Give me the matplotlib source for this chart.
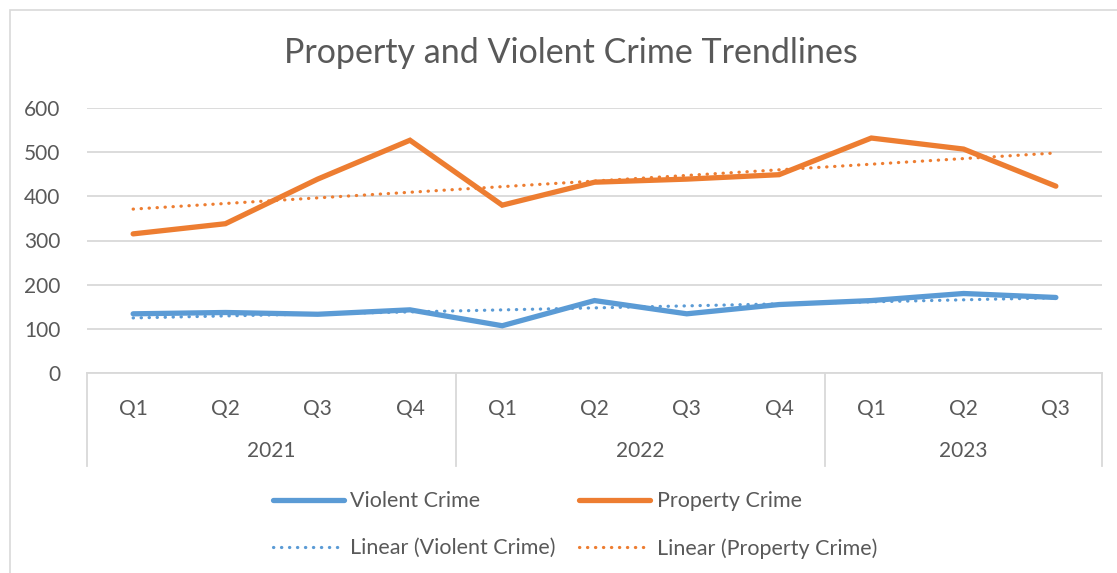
import numpy as np
import matplotlib
matplotlib.use('Agg')
import matplotlib.pyplot as plt
from matplotlib.patches import Rectangle
from matplotlib.lines import Line2D
import matplotlib.transforms as mtransforms

plt.rcParams['font.family'] = ['Lato', 'DejaVu Sans']

# Data
quarters = ['Q1', 'Q2', 'Q3', 'Q4', 'Q1', 'Q2', 'Q3', 'Q4', 'Q1', 'Q2', 'Q3']
years = ['2021', '2022', '2023']
year_sizes = [4, 4, 3]
violent = [134, 137, 133, 143, 107, 164, 134, 155, 164, 180, 171]
property_crime = [315, 338, 439, 527, 380, 432, 439, 449, 532, 507, 423]

blue = '#5B9BD5'
orange = '#ED7D31'
grid_col = '#D9D9D9'
text_col = '#595959'
fs = 15

x = np.arange(len(quarters))

# Linear trendlines (least squares fit, like Excel)
v_fit = np.polyval(np.polyfit(x, violent, 1), x)
p_fit = np.polyval(np.polyfit(x, property_crime, 1), x)

fig = plt.figure(figsize=(11.17, 5.73), dpi=100)

# chart area border
fig.patches.append(Rectangle((10 / 1117, -0.1), 1.2, 1 - 10 / 573 + 0.1,
                             transform=fig.transFigure, fill=False,
                             edgecolor=grid_col, linewidth=1.2))

ax = fig.add_axes([87 / 1117, 1 - 373 / 573, (1102 - 87) / 1117, (373 - 108) / 573])

dot = (0, (0.1, 2.4))
ax.plot(x, v_fit, color=blue, lw=2.3, linestyle=dot, dash_capstyle='round', zorder=3)
ax.plot(x, p_fit, color=orange, lw=2.3, linestyle=dot, dash_capstyle='round', zorder=3)
ax.plot(x, violent, color=blue, lw=3.8, solid_capstyle='round', solid_joinstyle='miter', zorder=2)
ax.plot(x, property_crime, color=orange, lw=3.8, solid_capstyle='round', solid_joinstyle='miter', zorder=2)

ax.set_xlim(-0.5, len(quarters) - 0.5)
ax.set_ylim(0, 600)
ax.set_yticks(range(0, 601, 100))
ax.yaxis.grid(True, color=grid_col, lw=1.3)
ax.set_axisbelow(True)
for s in ['top', 'right', 'left']:
    ax.spines[s].set_visible(False)
ax.spines['bottom'].set_color(grid_col)
ax.spines['bottom'].set_linewidth(1.3)
ax.tick_params(axis='y', length=0, labelsize=fs, labelcolor=text_col, pad=19)
ax.tick_params(axis='x', length=0, labelsize=fs, labelcolor=text_col, pad=19)
ax.set_xticks(x)
ax.set_xticklabels(quarters)

# multi-level category axis: year labels and separators
trans = mtransforms.blended_transform_factory(ax.transData, ax.transAxes)
start = -0.5
bounds = [start]
for yr, n in zip(years, year_sizes):
    ax.text(start + n / 2, -0.295, yr, transform=trans, ha='center', va='center',
            fontsize=fs, color=text_col)
    start += n
    bounds.append(start)
for b in bounds:
    ax.plot([b, b], [0, -0.35], transform=trans, color=grid_col, lw=1.3, clip_on=False)

fig.text(571 / 1117, 1 - 53 / 573, 'Property and Violent Crime Trendlines',
         ha='center', va='center', fontsize=24.5, color=text_col)

# legend filled row by row: solid lines on top, trendlines below
handles = [
    Line2D([], [], color=blue, lw=3.8, solid_capstyle='round'),
    Line2D([], [], color=blue, lw=2.3, linestyle=dot, dash_capstyle='round'),
    Line2D([], [], color=orange, lw=3.8, solid_capstyle='round'),
    Line2D([], [], color=orange, lw=2.3, linestyle=dot, dash_capstyle='round'),
]
labels = ['Violent Crime', 'Linear (Violent Crime)', 'Property Crime', 'Linear (Property Crime)']
fig.legend(handles, labels, ncol=2, loc='center', bbox_to_anchor=(575 / 1117, 1 - 525 / 573),
           frameon=False, fontsize=15.5, labelcolor=text_col, handlelength=3.3,
           handletextpad=0.3, columnspacing=1.1, labelspacing=1.25)

fig.savefig('out.png', dpi=100)
